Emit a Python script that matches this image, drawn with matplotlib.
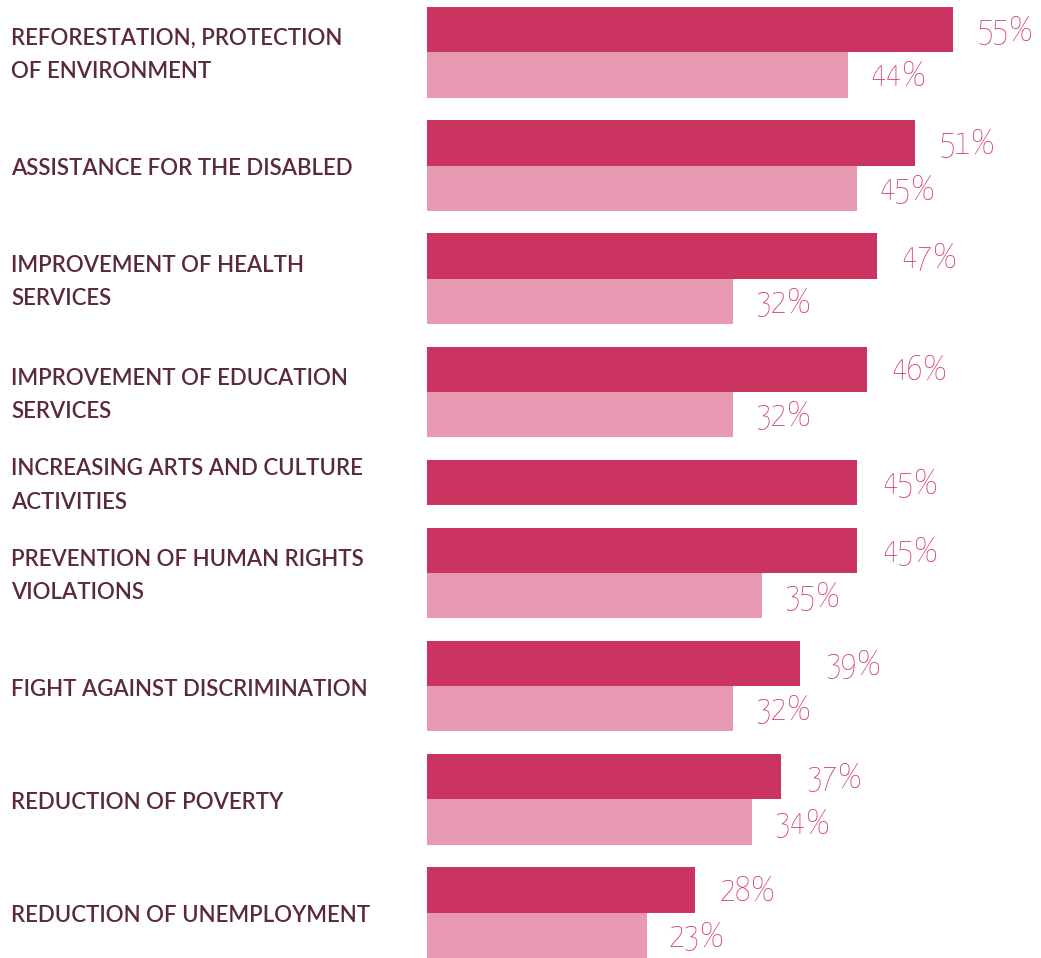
import matplotlib.pyplot as plt
import matplotlib.transforms as mtransforms

categories = [
    "REFORESTATION, PROTECTION\nOF ENVIRONMENT",
    "ASSISTANCE FOR THE DISABLED",
    "IMPROVEMENT OF HEALTH\nSERVICES",
    "IMPROVEMENT OF EDUCATION\nSERVICES",
    "INCREASING ARTS AND CULTURE\nACTIVITIES",
    "PREVENTION OF HUMAN RIGHTS\nVIOLATIONS",
    "FIGHT AGAINST DISCRIMINATION",
    "REDUCTION OF POVERTY",
    "REDUCTION OF UNEMPLOYMENT",
]
# first series (dark) and second series (light); None where there is no bar
dark_values = [55, 51, 47, 46, 45, 45, 39, 37, 28]
light_values = [44, 45, 32, 32, None, 35, 32, 34, 23]

DARK = "#CB3361"
LIGHT = "#E699B1"
LABEL_COLOR = "#5A2A3A"
VALUE_COLOR = "#D2406C"
VALUE_FONT = ["Yanone Kaffeesatz", "DejaVu Sans"]
LABEL_FONT = ["Lato", "DejaVu Sans"]

W, H, DPI = 1041, 958, 100
fig = plt.figure(figsize=(W / DPI, H / DPI), dpi=DPI)
ax = fig.add_axes([0, 0, 1, 1])

# horizontal scale: 0% sits at x0 pixels, px_per_pct pixels per percent
px_per_pct = 9.564
x0 = 427
ax.set_xlim(-x0 / px_per_pct, (W - x0) / px_per_pct)
ax.set_ylim(H, 0)
ax.axis("off")

bar_h = 45.3
gap = 22.6
y = 7.0
label_tf = mtransforms.blended_transform_factory(fig.transFigure, ax.transData)


def value_label(v, yc, offset):
    ax.text(v + offset, yc + 1, f"{v}%", va="center", ha="left",
            color=VALUE_COLOR, fontsize=25, family=VALUE_FONT, weight="light")


for cat, dv, lv in zip(categories, dark_values, light_values):
    top = y
    ax.barh(y + bar_h / 2, dv, height=bar_h, color=DARK, linewidth=0)
    value_label(dv, y + bar_h / 2, 2.6)
    y += bar_h
    if lv is not None:
        ax.barh(y + bar_h / 2, lv, height=bar_h, color=LIGHT, linewidth=0)
        value_label(lv, y + bar_h / 2, 2.3)
        y += bar_h
    ax.text(11 / W, (top + y) / 2 + 3, cat, transform=label_tf, va="center",
            ha="left", color=LABEL_COLOR, fontsize=16, family=LABEL_FONT,
            weight="semibold", linespacing=1.72)
    y += gap

fig.savefig("out.png", dpi=DPI, facecolor="white")
